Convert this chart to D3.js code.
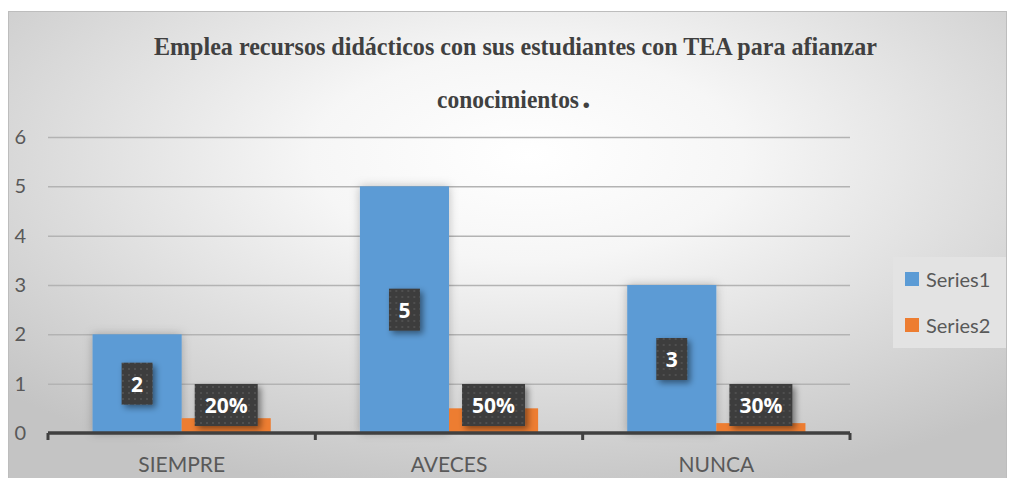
<!DOCTYPE html>
<html>
<head>
<meta charset="utf-8">
<script src="https://cdn.jsdelivr.net/npm/d3@7"></script>
<style>
  body { margin: 0; background: #fff; }
  svg { display: block; }
</style>
</head>
<body>
<div id="chart"></div>
<script>
const categories = ["SIEMPRE", "AVECES", "NUNCA"];
const series1 = [2, 5, 3];
const series2 = [0.3, 0.5, 0.2];
const series1Labels = ["2", "5", "3"];
const series2Labels = ["20%", "50%", "30%"];
const seriesNames = ["Series1", "Series2"];
const yTicks = [0, 1, 2, 3, 4, 5, 6];

const colors = ["#5b9bd5", "#ed7d31"];
const width = 1013, height = 478;

const svg = d3.select("#chart")
  .append("svg")
  .attr("width", width)
  .attr("height", height);

const defs = svg.append("defs");

// Background gradient
const grad = defs.append("radialGradient")
  .attr("id", "bg")
  .attr("cx", "52%").attr("cy", "30%").attr("r", "72%");
grad.append("stop").attr("offset", "0%").attr("stop-color", "#ffffff");
grad.append("stop").attr("offset", "30%").attr("stop-color", "#f6f6f6");
grad.append("stop").attr("offset", "100%").attr("stop-color", "#c4c4c4");

// Dotted pattern for data label boxes
const pat = defs.append("pattern")
  .attr("id", "dots")
  .attr("width", 6).attr("height", 6)
  .attr("patternUnits", "userSpaceOnUse");
pat.append("rect").attr("width", 6).attr("height", 6).attr("fill", "#3d3d3d");
pat.append("rect").attr("x", 2).attr("y", 2).attr("width", 2).attr("height", 2).attr("fill", "#505050");

const shadow = defs.append("filter").attr("id", "shadow")
  .attr("x", "-30%").attr("y", "-30%").attr("width", "170%").attr("height", "170%");
shadow.append("feDropShadow")
  .attr("dx", 3).attr("dy", 3).attr("stdDeviation", 3)
  .attr("flood-color", "#000").attr("flood-opacity", 0.45);

const barShadow = defs.append("filter").attr("id", "barShadow")
  .attr("x", "-20%").attr("y", "-20%").attr("width", "140%").attr("height", "140%");
barShadow.append("feDropShadow")
  .attr("dx", 0).attr("dy", 0).attr("stdDeviation", 5)
  .attr("flood-color", "#000").attr("flood-opacity", 0.25);

// Chart area
svg.append("rect")
  .attr("x", 8.5).attr("y", 11.5)
  .attr("width", 998).attr("height", 480)
  .attr("fill", "url(#bg)")
  .attr("stroke", "#bdbdbd")
  .attr("stroke-width", 1);

// Title
const title = svg.append("g")
  .attr("font-family", "'Liberation Serif', 'Times New Roman', serif")
  .attr("font-weight", "bold")
  .attr("fill", "#404040");
title.append("text")
  .attr("x", 154).attr("y", 55)
  .attr("font-size", 25)
  .attr("textLength", 723)
  .attr("lengthAdjust", "spacingAndGlyphs")
  .text("Emplea recursos didácticos con sus estudiantes con TEA para afianzar");
title.append("text")
  .attr("x", 437).attr("y", 108)
  .attr("font-size", 25)
  .attr("textLength", 142)
  .attr("lengthAdjust", "spacingAndGlyphs")
  .text("conocimientos");
title.append("text")
  .attr("x", 582).attr("y", 108)
  .attr("font-size", 34)
  .text(".");

// Scales
const x0 = d3.scaleBand().domain(categories).range([48, 850]);
const x1 = d3.scaleBand().domain([0, 1]).range([0, x0.bandwidth()]).paddingOuter(0.5).paddingInner(0);
const y = d3.scaleLinear().domain([0, 6]).range([433, 137]);

// Grid lines
svg.append("g")
  .attr("transform", "translate(48,0)")
  .call(d3.axisLeft(y).tickValues(yTicks).tickSize(-802).tickFormat(""))
  .call((g) => g.select(".domain").remove())
  .selectAll("line")
  .attr("stroke", "#b3b3b3")
  .attr("stroke-width", 1.5);

// Y axis labels
svg.append("g")
  .attr("transform", "translate(26,0)")
  .call(d3.axisLeft(y).tickValues(yTicks).tickSize(0).tickPadding(0).tickFormat(d3.format("d")))
  .call((g) => g.select(".domain").remove())
  .selectAll("text")
  .attr("font-family", "Lato, 'Open Sans', sans-serif")
  .attr("font-size", 20)
  .attr("fill", "#595959");

// Bars
const groups = svg.selectAll(".grp")
  .data(categories)
  .enter()
  .append("g")
  .attr("class", "grp")
  .attr("transform", (d) => `translate(${x0(d)},0)`);

groups.append("rect")
  .attr("x", x1(0))
  .attr("width", x1.bandwidth())
  .attr("y", (d, i) => y(series1[i]))
  .attr("height", (d, i) => y(0) - y(series1[i]))
  .attr("fill", colors[0])
  .attr("filter", "url(#barShadow)");

groups.append("rect")
  .attr("x", x1(1))
  .attr("width", x1.bandwidth())
  .attr("y", (d, i) => y(series2[i]))
  .attr("height", (d, i) => y(0) - y(series2[i]))
  .attr("fill", colors[1]);

// X axis
const xAxis = svg.append("g")
  .attr("transform", `translate(0,${y(0)})`)
  .call(d3.axisBottom(x0).tickSize(0).tickPadding(24));
xAxis.select(".domain").remove();
xAxis.append("line")
  .attr("x1", 48).attr("x2", 850)
  .attr("stroke", "#404040").attr("stroke-width", 3.5);
xAxis.selectAll(".sep")
  .data([...categories.map((c) => x0(c)), 850])
  .enter()
  .append("line")
  .attr("x1", (d) => d).attr("x2", (d) => d)
  .attr("y1", 0).attr("y2", 7)
  .attr("stroke", "#404040").attr("stroke-width", 3);
xAxis.selectAll(".tick text")
  .attr("font-family", "Lato, 'Open Sans', sans-serif")
  .attr("font-size", 21)
  .attr("fill", "#595959");

// Data labels
function addLabel(g, cx, cy, text, w) {
  const h = 42;
  g.append("rect")
    .attr("x", cx - w / 2).attr("y", cy - h / 2)
    .attr("width", w).attr("height", h)
    .attr("fill", "url(#dots)")
    .attr("filter", "url(#shadow)");
  g.append("text")
    .attr("x", cx).attr("y", cy + 8)
    .attr("text-anchor", "middle")
    .attr("font-family", "'Open Sans', sans-serif")
    .attr("font-weight", "bold")
    .attr("font-size", 21)
    .attr("fill", "#ffffff")
    .text(text);
}

groups.each(function (d, i) {
  const g = d3.select(this);
  addLabel(g, x1(0) + x1.bandwidth() / 2, y(series1[i] / 2), series1Labels[i], 31);
  addLabel(g, x1(1) + x1.bandwidth() / 2, y(0) - 28, series2Labels[i], 63);
});

// Legend
const legend = svg.append("g");
legend.append("rect")
  .attr("x", 893).attr("y", 257)
  .attr("width", 113).attr("height", 91)
  .attr("fill", "#e3e3e3");
seriesNames.forEach((name, i) => {
  legend.append("rect")
    .attr("x", 905).attr("y", 272 + i * 46)
    .attr("width", 14).attr("height", 14)
    .attr("fill", colors[i]);
  legend.append("text")
    .attr("x", 926).attr("y", 287 + i * 46)
    .attr("font-family", "Lato, 'Open Sans', sans-serif")
    .attr("font-size", 20)
    .attr("fill", "#595959")
    .text(name);
});
</script>
</body>
</html>
